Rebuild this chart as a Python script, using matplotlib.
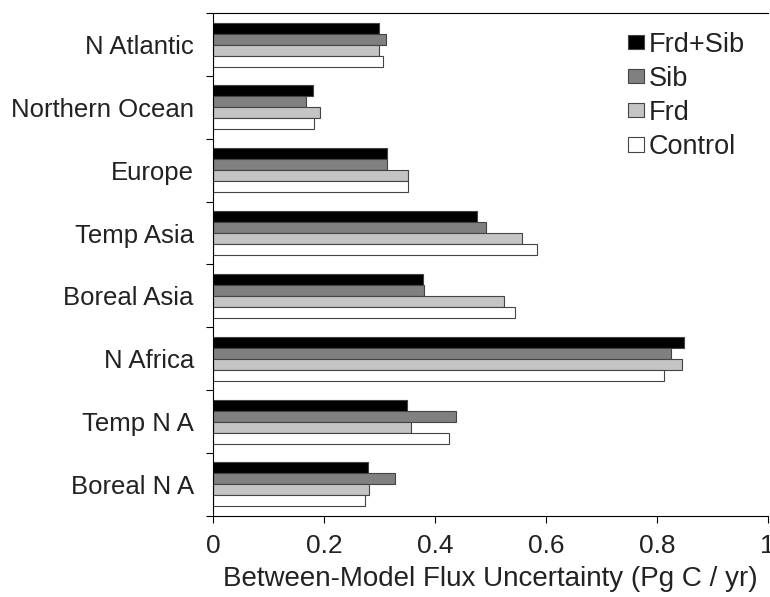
import numpy as np
import matplotlib.pyplot as plt
from matplotlib.ticker import FixedLocator

plt.rcParams["font.family"] = ["Liberation Sans", "DejaVu Sans"]

# ── data (top to bottom as drawn) ─────────────────────────────────────────────
regions = ["N Atlantic", "Northern Ocean", "Europe", "Temp Asia",
           "Boreal Asia", "N Africa", "Temp N A", "Boreal N A"]
series = ["Frd+Sib", "Sib", "Frd", "Control"]

frd_sib = [0.298, 0.180, 0.313, 0.476, 0.378, 0.849, 0.350, 0.279]
sib     = [0.312, 0.167, 0.313, 0.491, 0.380, 0.826, 0.438, 0.328]
frd     = [0.299, 0.193, 0.351, 0.557, 0.525, 0.845, 0.356, 0.281]
control = [0.307, 0.182, 0.351, 0.584, 0.544, 0.813, 0.426, 0.274]

values = [frd_sib, sib, frd, control]
colors = ["#000000", "#808080", "#c4c4c4", "#ffffff"]

# ── figure ───────────────────────────────────────────────────────────────────
fig = plt.figure(figsize=(7.70, 5.97), dpi=100)
ax = fig.add_axes([0.277, 0.136, 0.720, 0.842])

n = len(regions)
centers = np.arange(n)          # 0 at top, inverted below
bar_h = 0.175
offsets = (np.arange(len(series)) - 1.5) * bar_h

for vals, col, off, name in zip(values, colors, offsets, series):
    ax.barh(centers + off, vals, height=bar_h, color=col,
            edgecolor="#444444", linewidth=0.8, label=name)

ax.set_ylim(n - 0.5, -0.5)
ax.set_xlim(0, 1)

ax.set_yticks(centers)
ax.set_yticklabels(regions, fontsize=18.5, color="#222222")
ax.tick_params(axis="y", which="major", length=0, pad=14)
ax.yaxis.set_minor_locator(FixedLocator(np.arange(-0.5, n, 1.0)))
ax.tick_params(axis="y", which="minor", length=5, direction="out", width=0.8)

ax.set_xticks([0, 0.2, 0.4, 0.6, 0.8, 1.0])
ax.set_xticklabels(["0", "0.2", "0.4", "0.6", "0.8", "1"], fontsize=19,
                   color="#222222")
ax.tick_params(axis="x", length=5, direction="out", width=0.8, pad=8)
ax.set_xlabel("Between-Model Flux Uncertainty (Pg C / yr)", fontsize=20,
              color="#222222", labelpad=6)

for side in ["left", "bottom", "top"]:
    ax.spines[side].set_linewidth(0.8)
ax.spines["right"].set_visible(False)

leg = ax.legend(loc="upper right", bbox_to_anchor=(0.978, 0.985), frameon=False,
                fontsize=19.5, handlelength=0.6, handleheight=0.45,
                handletextpad=0.15, labelspacing=0.3, borderaxespad=0)
for t in leg.get_texts():
    t.set_color("#222222")

fig.savefig("out.png", dpi=100)
